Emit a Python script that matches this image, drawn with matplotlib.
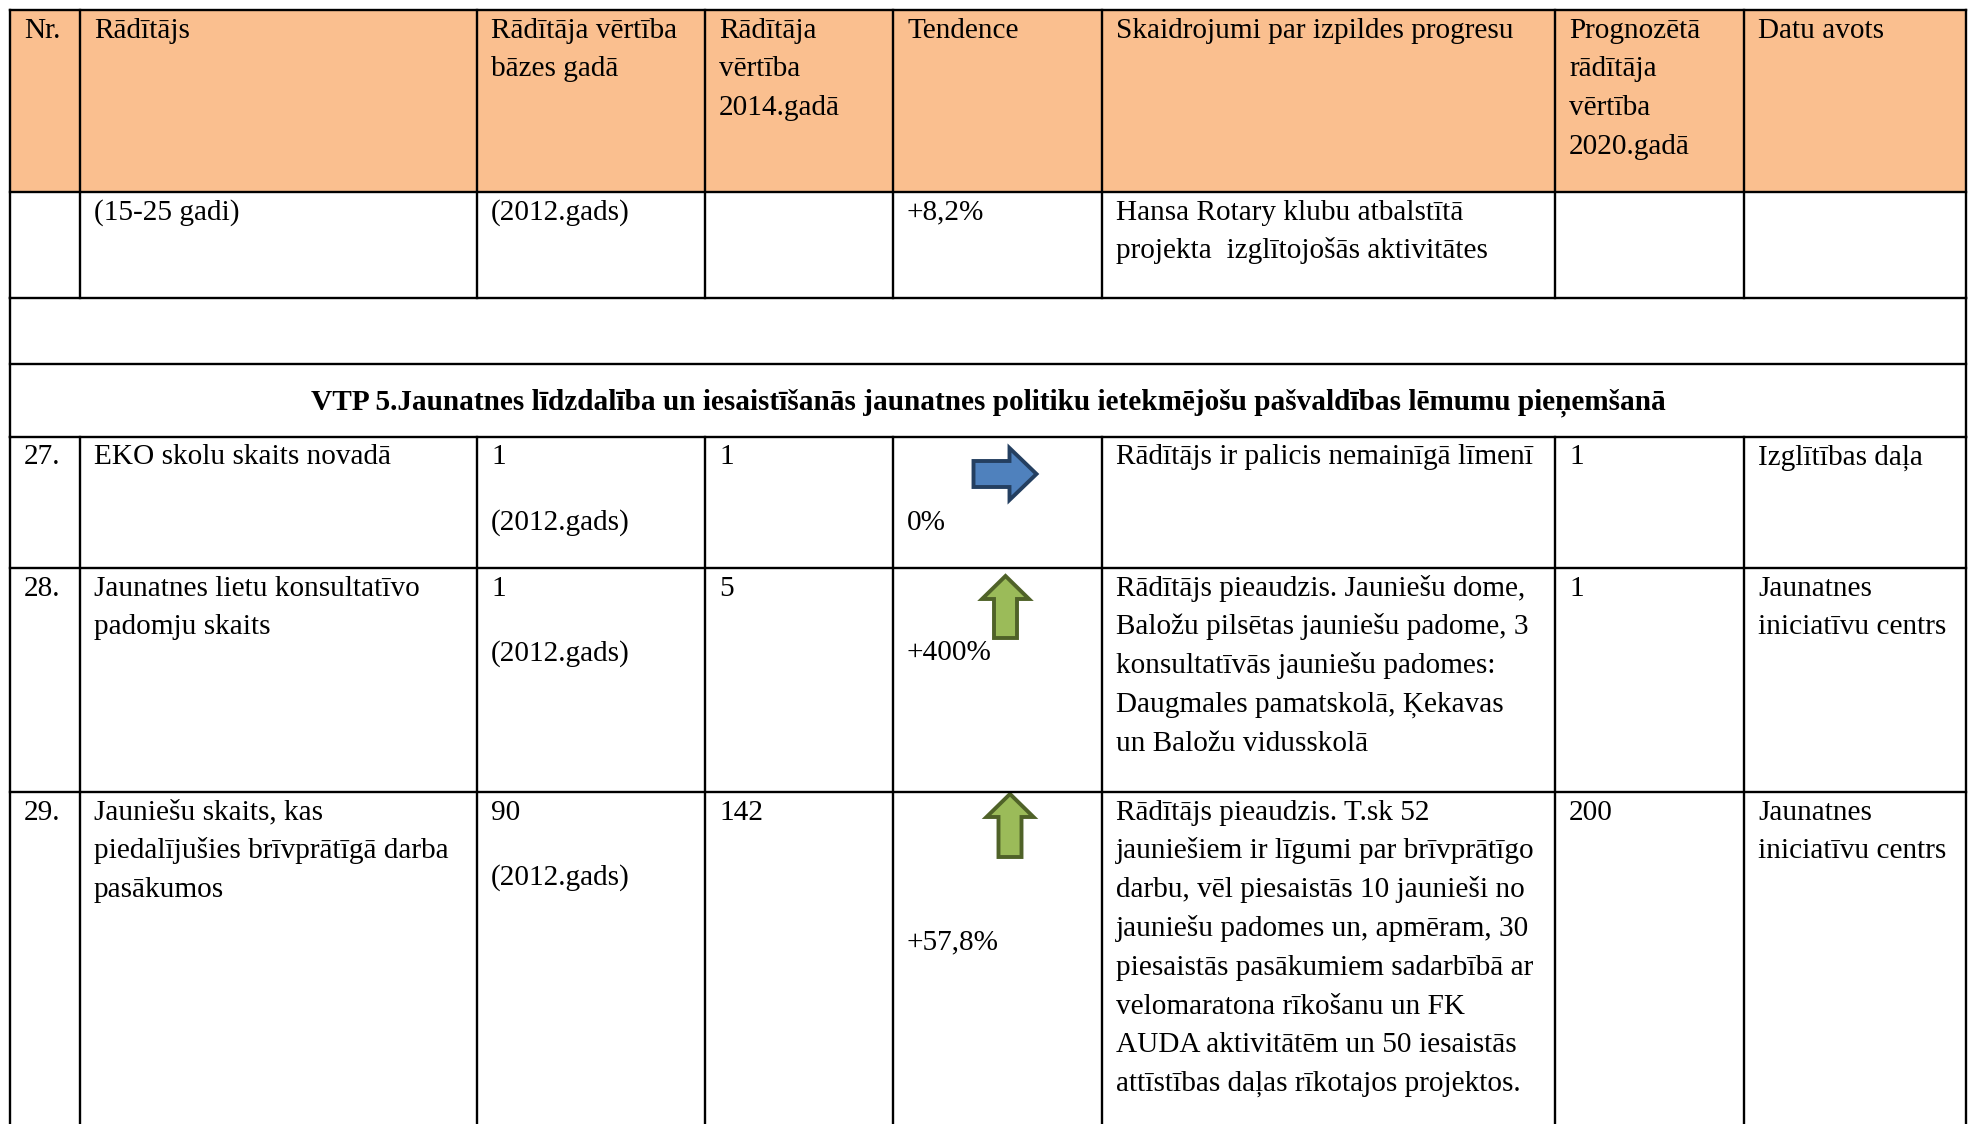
import matplotlib
matplotlib.use("Agg")
import matplotlib.pyplot as plt
from matplotlib.patches import Rectangle, Polygon

plt.rcParams['font.family'] = ['Liberation Serif', 'DejaVu Serif']

# ---- table content ----
header = ["Nr.", "Rādītājs", "Rādītāja vērtība\nbāzes gadā", "Rādītāja\nvērtība\n2014.gadā",
          "Tendence", "Skaidrojumi par izpildes progresu",
          "Prognozētā\nrādītāja\nvērtība\n2020.gadā", "Datu avots"]

nr = ["", "27.", "28.", "29."]
indicator = ["(15-25 gadi)",
             "EKO skolu skaits novadā",
             "Jaunatnes lietu konsultatīvo\npadomju skaits",
             "Jauniešu skaits, kas\npiedalījušies brīvprātīgā darba\npasākumos"]
base_value = ["(2012.gads)", "1", "1", "90"]
base_year = ["", "(2012.gads)", "(2012.gads)", "(2012.gads)"]
value_2014 = ["", "1", "5", "142"]
tendency = ["+8,2%", "0%", "+400%", "+57,8%"]
trend_dir = [None, "flat", "up", "up"]
explanation = ["Hansa Rotary klubu atbalstītā\nprojekta  izglītojošās aktivitātes",
               "Rādītājs ir palicis nemainīgā līmenī",
               "Rādītājs pieaudzis. Jauniešu dome,\nBaložu pilsētas jauniešu padome, 3\n"
               "konsultatīvās jauniešu padomes:\nDaugmales pamatskolā, Ķekavas\nun Baložu vidusskolā",
               "Rādītājs pieaudzis. T.sk 52\njauniešiem ir līgumi par brīvprātīgo\n"
               "darbu, vēl piesaistās 10 jaunieši no\njauniešu padomes un, apmēram, 30\n"
               "piesaistās pasākumiem sadarbībā ar\nvelomaratona rīkošanu un FK\n"
               "AUDA aktivitātēm un 50 iesaistās\nattīstības daļas rīkotajos projektos."]
forecast = ["", "1", "1", "200"]
source = ["", "Izglītības daļa", "Jaunatnes\niniciatīvu centrs", "Jaunatnes\niniciatīvu centrs"]

section_title = "VTP 5.Jaunatnes līdzdalība un iesaistīšanās jaunatnes politiku ietekmējošu pašvaldības lēmumu pieņemšanā"

# ---- layout (pixels) ----
W, H = 1970, 1124
col_x = [10, 80, 477, 705, 893, 1102, 1555, 1744, 1966]
header_top, header_bot = 10, 192
row_tops = [192, 437, 568, 792]
gap_top, gap_bot = 298, 364
sec_top, sec_bot = 364, 437
tend_offset = [0, 65, 65, 130]
LINE = 38.8
BASE = 27.5
PAD = 14
FS = 21.1
LW = 1.7

fig = plt.figure(figsize=(W / 100, H / 100), dpi=100)
ax = fig.add_axes([0, 0, 1, 1])
ax.set_xlim(0, W)
ax.set_ylim(H, 0)
ax.axis('off')

ax.add_patch(Rectangle((col_x[0], header_top), col_x[-1] - col_x[0], header_bot - header_top,
                       facecolor='#FABF8F', edgecolor='none', zorder=0))


def put(x, y, txt, **kw):
    for i, line in enumerate(txt.split("\n")):
        ax.text(x, y + i * LINE, line, fontsize=FS, ha='left', va='baseline', color='black', **kw)


for j, h in enumerate(header):
    put(col_x[j] + PAD, header_top + BASE, h)

for i in range(len(nr)):
    top = row_tops[i]
    y0 = top + BASE
    cells = [nr[i], indicator[i], base_value[i], value_2014[i], None, explanation[i], forecast[i], source[i]]
    for j, c in enumerate(cells):
        if c:
            put(col_x[j] + PAD, y0, c)
    if base_year[i]:
        put(col_x[2] + PAD, y0 + 65, base_year[i])
    put(col_x[4] + PAD, y0 + tend_offset[i], tendency[i])

ax.text((col_x[0] + col_x[-1]) / 2, sec_top + 45, section_title, fontsize=FS, fontweight='bold',
        ha='center', va='baseline')


# ---- trend arrows ----
def right_arrow(cx, cy, length=63, height=52, shaft=26, head=27):
    x0, x1, x2 = cx - length / 2, cx + length / 2 - head, cx + length / 2
    pts = [(x0, cy - shaft / 2), (x1, cy - shaft / 2), (x1, cy - height / 2), (x2, cy),
           (x1, cy + height / 2), (x1, cy + shaft / 2), (x0, cy + shaft / 2)]
    ax.add_patch(Polygon(pts, closed=True, facecolor='#4F81BD', edgecolor='#243F60',
                         linewidth=2.8, joinstyle='miter', zorder=3))


def up_arrow(cx, tip, bottom, width=47, shaft=23, head=23):
    yb = tip + head
    pts = [(cx, tip), (cx + width / 2, yb), (cx + shaft / 2, yb), (cx + shaft / 2, bottom),
           (cx - shaft / 2, bottom), (cx - shaft / 2, yb), (cx - width / 2, yb)]
    ax.add_patch(Polygon(pts, closed=True, facecolor='#9BBB59', edgecolor='#4F6228',
                         linewidth=2.8, joinstyle='miter', zorder=3))


for i, d in enumerate(trend_dir):
    top = row_tops[i]
    if d == "flat":
        right_arrow(1005, top + 37)
    elif d == "up":
        if i == 2:
            up_arrow(1005.5, top + 8, top + 70)
        else:
            up_arrow(1010, top + 2, top + 65)

# ---- grid lines ----
kw = dict(color='black', linewidth=LW, solid_capstyle='projecting', zorder=4)
for y in [header_top, header_bot, gap_top, gap_bot, sec_bot, row_tops[2], row_tops[3]]:
    ax.plot([col_x[0], col_x[-1]], [y, y], **kw)
for x in col_x:
    ax.plot([x, x], [header_top, gap_top], **kw)
    ax.plot([x, x], [sec_bot, H + 5], **kw)
for x in (col_x[0], col_x[-1]):
    ax.plot([x, x], [gap_top, sec_bot], **kw)

fig.savefig("out.png", dpi=100)
